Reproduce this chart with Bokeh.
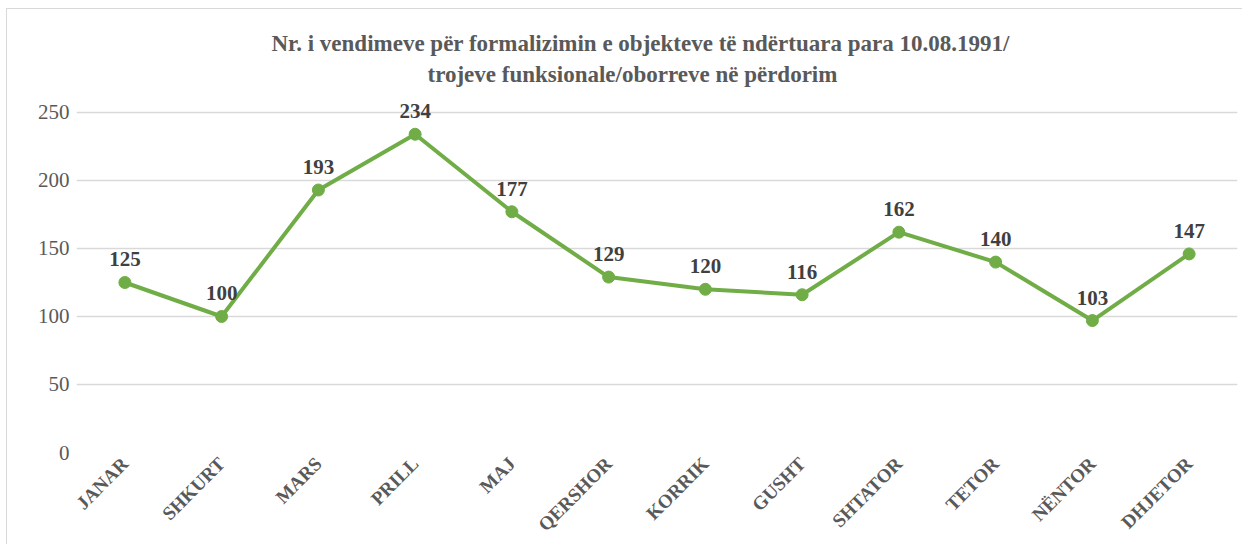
import math
from bokeh.plotting import figure
from bokeh.models import ColumnDataSource, FactorRange, Range1d, FixedTicker, Title
from bokeh.core.properties import value
from bokeh.embed import file_html
from bokeh.resources import INLINE

months = ["JANAR", "SHKURT", "MARS", "PRILL", "MAJ", "QERSHOR",
          "KORRIK", "GUSHT", "SHTATOR", "TETOR", "NËNTOR", "DHJETOR"]
counts = [125, 100, 193, 234, 177, 129, 120, 116, 162, 140, 97, 146]
count_labels = ["125", "100", "193", "234", "177", "129",
                "120", "116", "162", "140", "103", "147"]
y_ticks = [0, 50, 100, 150, 200, 250]

title_line1 = "Nr. i vendimeve për formalizimin e objekteve të ndërtuara para 10.08.1991/"
title_line2 = "trojeve funksionale/oborreve në përdorim"

src = ColumnDataSource(dict(m=months, v=counts, lab=count_labels))

p = figure(width=1236, height=536, output_backend="svg", toolbar_location=None,
           x_range=FactorRange(*months, range_padding=0),
           y_range=Range1d(0, 264.7),
           min_border_left=69, min_border_right=6, min_border_top=83, min_border_bottom=93)
p.title = None
p.outline_line_color = None
p.background_fill_color = "white"
p.border_fill_color = "white"
p.styles = {"margin-left": "6px", "margin-top": "8px",
            "border-top": "1px solid #d9d9d9", "border-left": "1px solid #d9d9d9"}

serif = "Liberation Serif"

p.add_layout(Title(text=title_line2, align="left", text_font=serif, text_font_size="23px",
                   text_font_style="bold", text_color="#595959", standoff=12, offset=351), "above")
p.add_layout(Title(text=title_line1, align="left", text_font=serif, text_font_size="23px",
                   text_font_style="bold", text_color="#595959", standoff=-4, offset=195), "above")

p.line("m", "v", source=src, line_color="#70AD47", line_width=4)
p.scatter("m", "v", source=src, size=12, fill_color="#70AD47", line_color="#70AD47")
p.text("m", "v", text="lab", source=src, text_align="center", text_baseline="alphabetic",
       y_offset=-23, text_font=value(serif), text_font_size="21px", text_font_style="bold",
       text_color="#404040")

p.xgrid.grid_line_color = None
p.ygrid.grid_line_color = "#d9d9d9"
p.ygrid.grid_line_width = 1.5
p.yaxis.ticker = FixedTicker(ticks=y_ticks)
p.yaxis.axis_line_color = None
p.yaxis.major_tick_line_color = None
p.yaxis.minor_tick_line_color = None
p.yaxis.major_label_text_font = serif
p.yaxis.major_label_text_font_size = "21px"
p.yaxis.major_label_text_color = "#595959"
p.yaxis.major_label_standoff = 1

p.xaxis.axis_line_color = None
p.xaxis.major_tick_line_color = None
p.xaxis.major_label_orientation = math.pi / 4
p.xaxis.major_label_text_font = serif
p.xaxis.major_label_text_font_size = "19px"
p.xaxis.major_label_text_font_style = "bold"
p.xaxis.major_label_text_color = "#595959"
p.xaxis.major_label_standoff = 2

open("out.html", "w").write(file_html(p, INLINE))
